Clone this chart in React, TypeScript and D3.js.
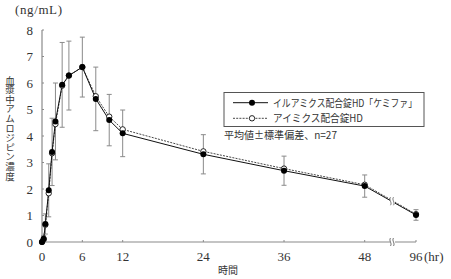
import React from 'react';
import * as d3 from 'd3';

const times = [0, 0.25, 0.5, 1, 1.5, 2, 3, 4, 6, 8, 10, 12, 24, 36, 48, 96];
const seriesA = [0, 0.12, 0.68, 1.95, 3.4, 4.55, 5.93, 6.28, 6.6, 5.4, 4.6, 4.1, 3.31, 2.69, 2.11, 1.02];
const seriesB = [0, 0.1, 0.65, 1.84, 3.35, 4.45, 5.9, 6.28, 6.6, 5.5, 4.73, 4.25, 3.42, 2.77, 2.16, 1.05];
const sdA = [0, 0.12, 0.38, 1.0, 1.27, 1.45, 1.6, 1.3, 1.13, 1.2, 0.97, 0.88, 0.74, 0.55, 0.42, 0.2];
const xTicks = [0, 6, 12, 24, 36, 48, 96];
const yTicks = [0, 1, 2, 3, 4, 5, 6, 7, 8];
const labelA = 'イルアミクス配合錠HD「ケミファ」';
const labelB = 'アイミクス配合錠HD';
const note = '平均値±標準偏差、n=27';
const yTitle = '血漿中アムロジピン濃度';
const xTitle = '時間';
const yUnit = '(ng/mL)';
const xUnit = '(hr)';
const breakT = 74;

const serif = '"Liberation Serif", "DejaVu Serif", serif';
const cjk = '"Noto Sans CJK JP", sans-serif';

export default function App() {
  const x = d3.scaleLinear().domain([0, 48, 96]).range([42, 364.7, 416]);
  const y = d3.scaleLinear().domain([0, 8]).range([242, 30]);
  const axisColor = '#8a8a8a';

  const mkLine = (vals: number[]) =>
    d3.line<number>().x((_, i) => x(times[i])).y((v) => y(v))(vals) || '';

  const interpAt = (vals: number[], t: number) => {
    const n = times.length;
    const t0 = times[n - 2], t1 = times[n - 1];
    const v = vals[n - 2] + ((vals[n - 1] - vals[n - 2]) * (t - t0)) / (t1 - t0);
    return y(v);
  };

  const wave = (cx: number, cy: number, h: number) => {
    const p = d3.path();
    p.moveTo(cx - 1, cy - h);
    p.bezierCurveTo(cx - 3, cy - h / 3, cx + 1, cy + h / 3, cx - 1, cy + h);
    return p.toString();
  };
  const breakMark = (cx: number, cy: number, key: string) => (
    <g key={key}>
      <rect x={cx - 2.5} y={cy - 4} width={5} height={8} fill="#fff" />
      <path d={wave(cx - 1, cy, 4)} stroke="#555" fill="none" strokeWidth={0.8} />
      <path d={wave(cx + 2, cy, 4)} stroke="#555" fill="none" strokeWidth={0.8} />
    </g>
  );

  const bx = x(breakT);

  return (
    <svg width={451} height={279} style={{ position: 'absolute', left: 0, top: 0, background: '#fff' }}>
      <rect width={451} height={279} fill="#fff" />
      {/* axes */}
      <line x1={42} x2={42} y1={y(8)} y2={y(0)} stroke={axisColor} strokeWidth={1.2} />
      <line x1={42} x2={x(96)} y1={y(0)} y2={y(0)} stroke={axisColor} strokeWidth={1.2} />
      {yTicks.map((t) => (
        <g key={'yt' + t}>
          <line x1={42} x2={44} y1={y(t)} y2={y(t)} stroke={axisColor} />
          <text x={33} y={y(t) + 4.5} textAnchor="end" fontFamily={serif} fontSize={13} fill="#333">
            {t}
          </text>
        </g>
      ))}
      {xTicks.map((t) => (
        <g key={'xt' + t}>
          <line x1={x(t)} x2={x(t)} y1={y(0)} y2={y(0) - 2} stroke={axisColor} />
          <text x={x(t)} y={261} textAnchor="middle" fontFamily={serif} fontSize={13} fill="#333">
            {t}
          </text>
        </g>
      ))}
      {breakMark(bx, y(0), 'axbreak')}
      <text x={424} y={261} fontFamily={serif} fontSize={13} fill="#333">{xUnit}</text>
      <text x={15} y={14} fontFamily={serif} fontSize={13} fill="#333" textLength={47}>{yUnit}</text>
      <text x={228} y={274} textAnchor="middle" fontFamily={cjk} fontSize={10} fill="#333">{xTitle}</text>
      <text x={10} y={128} textAnchor="middle" fontFamily={cjk} fontSize={9.6} fill="#333"
        style={{ writingMode: 'vertical-rl', textOrientation: 'upright' } as any}>{yTitle}</text>

      {/* error bars */}
      {times.map((t, i) => (
        <g key={'eb' + i} stroke={axisColor} strokeWidth={1}>
          <line x1={x(t)} x2={x(t)} y1={y(seriesA[i] + sdA[i])} y2={y(Math.max(0, seriesA[i] - sdA[i]))} />
          <line x1={x(t) - 2.5} x2={x(t) + 2.5} y1={y(seriesA[i] + sdA[i])} y2={y(seriesA[i] + sdA[i])} />
          <line x1={x(t) - 2.5} x2={x(t) + 2.5} y1={y(Math.max(0, seriesA[i] - sdA[i]))} y2={y(Math.max(0, seriesA[i] - sdA[i]))} />
        </g>
      ))}

      {/* series B */}
      <path d={mkLine(seriesB)} fill="none" stroke="#333" strokeWidth={0.9} strokeDasharray="2,1.2" />
      {/* series A */}
      <path d={mkLine(seriesA)} fill="none" stroke="#111" strokeWidth={1} />
      {breakMark(bx, (interpAt(seriesA, breakT) + interpAt(seriesB, breakT)) / 2, 'dbreak')}
      {times.map((t, i) => (
        <circle key={'mb' + i} cx={x(t)} cy={y(seriesB[i])} r={2.7} fill="#fff" stroke="#111" strokeWidth={0.9} />
      ))}
      {times.map((t, i) => (
        <circle key={'ma' + i} cx={x(t)} cy={y(seriesA[i])} r={3} fill="#000" />
      ))}

      {/* legend */}
      <rect x={224} y={92.5} width={200} height={34} fill="#fff" stroke="#555" strokeWidth={1} />
      <line x1={233} x2={268} y1={102.7} y2={102.7} stroke="#111" strokeWidth={1} />
      <circle cx={252} cy={102.7} r={3} fill="#000" />
      <text x={273} y={106.5} fontFamily={cjk} fontSize={10.5} fill="#333" textLength={144} lengthAdjust="spacingAndGlyphs">{labelA}</text>
      <line x1={233} x2={268} y1={118.3} y2={118.3} stroke="#333" strokeWidth={0.9} strokeDasharray="2,1.2" />
      <circle cx={252} cy={118.3} r={2.7} fill="#fff" stroke="#111" strokeWidth={0.9} />
      <text x={273} y={122} fontFamily={cjk} fontSize={10.5} fill="#333" textLength={90} lengthAdjust="spacingAndGlyphs">{labelB}</text>
      <text x={224} y={139} fontFamily={cjk} fontSize={10.5} fill="#333" textLength={113} lengthAdjust="spacingAndGlyphs">{note}</text>
    </svg>
  );
}
